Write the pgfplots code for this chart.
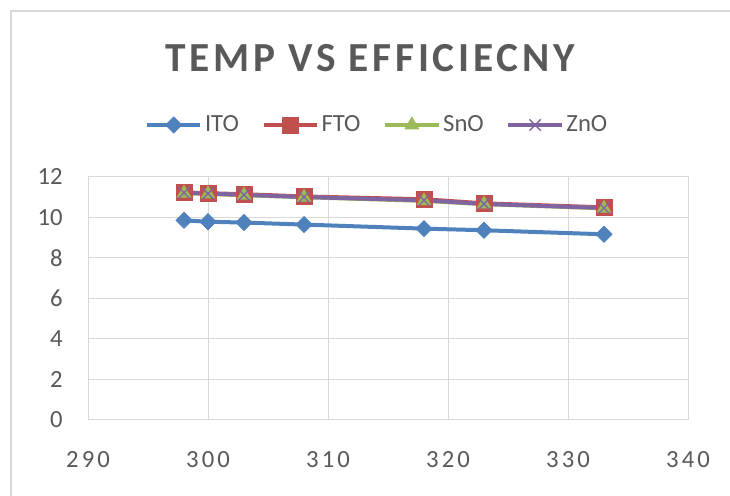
\documentclass[border=0pt]{standalone}
\usepackage{fontspec}
\setmainfont{Carlito}
\usepackage{pgfplots}
\pgfplotsset{compat=1.18}
\definecolor{cITO}{HTML}{4F81BD}
\definecolor{cFTO}{HTML}{C0504D}
\definecolor{cSnO}{HTML}{9BBB59}
\definecolor{cZnO}{HTML}{8064A2}
\definecolor{gridc}{HTML}{D9D9D9}
\definecolor{txt}{HTML}{595959}
\begin{document}
\begin{tikzpicture}
\path[use as bounding box] (0pt,0pt) rectangle (547.5pt,371.25pt);
\draw[gridc, line width=1.5pt] (8.25pt,-5pt) -- (8.25pt,363pt) -- (555pt,363pt);
\node[text=txt, font=\fontsize{31}{31}\selectfont\bfseries\addfontfeatures{LetterSpace=9}] at (277.5pt,327.75pt) {TEMP VS EFFICIECNY};
\begin{axis}[
  at={(66pt,56.25pt)}, anchor=south west,
  scale only axis, width=450pt, height=182.25pt,
  xmin=290, xmax=340, ymin=0, ymax=12,
  xtick={290,300,...,340}, ytick={0,2,...,12},
  grid=major, major grid style={gridc, line width=0.75pt},
  axis line style={gridc, line width=0.75pt},
  major tick length=0pt,
  /pgf/number format/assume math mode=true,
  tick label style={text=txt, inner sep=0pt},
  yticklabel style={font=\fontsize{18.5}{21}\selectfont, anchor=east, xshift=-18.75pt},
  xticklabel style={font=\fontsize{18.5}{21}\selectfont\addfontfeatures{LetterSpace=13}, anchor=north, yshift=-23.5pt},
  legend columns=4,
  legend style={draw=none, fill=none, font=\fontsize{18.5}{21}\selectfont, text=txt,
    at={(0.4825,1.214)}, anchor=center,
    /tikz/every even column/.append style={column sep=15pt},
    inner sep=0pt, outer sep=0pt},
  legend cell align=left,
  legend image code/.code={\draw[#1, mark repeat=2, mark phase=2] plot coordinates {(0pt,0pt) (20pt,0pt) (40pt,0pt)};},
  every axis plot/.append style={line width=3pt},
]
\addplot[cITO, mark=square*, mark size=4.3pt, mark options={rotate=45, solid, line width=0.5pt}]
  coordinates {(298,9.86) (300,9.79) (303,9.75) (308,9.65) (318,9.45) (323,9.37) (333,9.17)};
\addlegendentry{ITO}
\addplot[cFTO, mark=square*, mark size=6pt, mark options={solid, line width=0.5pt}]
  coordinates {(298,11.24) (300,11.2) (303,11.15) (308,11.04) (318,10.9) (323,10.7) (333,10.5)};
\addlegendentry{FTO}
\addplot[cSnO, mark=triangle*, mark size=6pt, mark options={solid, line width=0.5pt}]
  coordinates {(298,11.2) (300,11.16) (303,11.1) (308,11.0) (318,10.82) (323,10.66) (333,10.45)};
\addlegendentry{SnO}
\addplot[cZnO, mark=x, mark size=6pt, mark options={solid, line width=1pt}]
  coordinates {(298,11.22) (300,11.18) (303,11.12) (308,11.01) (318,10.85) (323,10.67) (333,10.47)};
\addlegendentry{ZnO}
\end{axis}
\end{tikzpicture}
\end{document}
